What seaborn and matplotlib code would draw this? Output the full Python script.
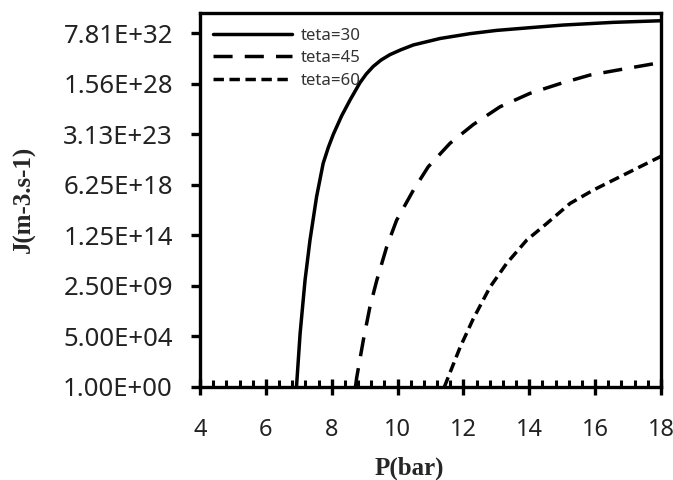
import numpy as np
import pandas as pd
import matplotlib
matplotlib.use("Agg")
import matplotlib.pyplot as plt
import matplotlib.ticker as mticker
import seaborn as sns

# Data: P in bar, exponent of J (J = 10**exponent, m^-3.s^-1)
p_30 = [6.93, 7.04, 7.19, 7.34, 7.54, 7.74, 7.90, 8.05, 8.30, 8.56, 8.86, 9.05, 9.26, 9.50, 9.77, 10.10, 10.48, 11.29, 12.2, 13.0, 14.0, 15.03, 16.55, 18.0]
logj_30 = [0, 4.97, 9.93, 13.65, 17.68, 20.79, 22.3, 23.5, 25.2, 26.7, 28.3, 29.1, 29.8, 30.4, 30.9, 31.35, 31.8, 32.4, 32.85, 33.15, 33.4, 33.65, 33.9, 34.05]

p_45 = [8.72, 8.76, 8.96, 9.16, 9.37, 9.67, 9.97, 10.48, 10.93, 11.59, 12.3, 13.11, 14.02, 14.93, 15.84, 16.75, 17.87, 18.0]
logj_45 = [0, 0.9, 4.35, 7.44, 9.93, 13.03, 15.5, 18.3, 20.47, 22.65, 24.4, 26.05, 27.3, 28.2, 29.0, 29.5, 30.1, 30.2]

p_60 = [11.42, 11.54, 11.9, 12.3, 12.81, 13.31, 13.92, 14.53, 15.24, 15.94, 16.75, 17.36, 17.97, 18.0]
logj_60 = [0, 0.93, 3.7, 6.35, 9.3, 11.48, 13.65, 15.2, 17.07, 18.3, 19.54, 20.47, 21.4, 21.45]

labels = ["teta=30", "teta=45", "teta=60"]
y_ticks = [1.0, 5.0e4, 2.5e9, 1.25e14, 6.25e18, 3.125e23, 1.5625e28, 7.8125e32]
x_ticks = [4, 6, 8, 10, 12, 14, 16, 18]

df = pd.concat([
    pd.DataFrame({"P": p_30, "J": 10.0 ** np.array(logj_30), "series": labels[0]}),
    pd.DataFrame({"P": p_45, "J": 10.0 ** np.array(logj_45), "series": labels[1]}),
    pd.DataFrame({"P": p_60, "J": 10.0 ** np.array(logj_60), "series": labels[2]}),
], ignore_index=True)

sns.set_style("white")
plt.rcParams["font.family"] = ["Noto Sans", "DejaVu Sans"]

fig = plt.figure(figsize=(6.73, 4.8), dpi=100)
ax = fig.add_axes([200 / 673, 93 / 480, 461 / 673, 374 / 480])

sns.lineplot(data=df, x="P", y="J", hue="series", style="series",
             palette=["black"] * 3,
             dashes={labels[0]: "", labels[1]: (5.5, 3.5), labels[2]: (3, 1.6)},
             sort=False, estimator=None, linewidth=2.5, ax=ax)

ax.set_yscale("log")
ax.set_ylim(1.0, 10 ** 34.77)
ax.set_xlim(4, 18)
ax.set_yticks(y_ticks)
ax.yaxis.set_major_formatter(mticker.FuncFormatter(lambda v, pos: "%.2E" % v))
ax.yaxis.set_minor_locator(mticker.NullLocator())
ax.set_xticks(x_ticks)
ax.xaxis.set_minor_locator(mticker.MultipleLocator(0.4))

for s in ax.spines.values():
    s.set_linewidth(2.4)
    s.set_color("black")

ax.tick_params(bottom=True, left=True, top=False, right=False, which="both")
ax.tick_params(axis="y", which="major", direction="out", length=6.5, width=2.4,
               labelsize=18.5, colors="black", labelcolor="#222222", pad=13)
ax.tick_params(axis="x", which="major", direction="inout", length=12, width=2.4,
               labelsize=17, colors="black", labelcolor="#222222", pad=16)
ax.tick_params(axis="x", which="minor", direction="in", length=5, width=2.2, colors="black")

ax.set_xlabel("P(bar)", fontfamily="Liberation Serif", fontweight="bold", fontsize=18)
ax.set_ylabel("J(m-3.s-1)", fontfamily="Liberation Serif", fontweight="bold", fontsize=18)
ax.xaxis.set_label_coords(0.453, -0.217)
ax.xaxis.label.set_va("center")
ax.yaxis.set_label_coords(-0.38, 0.503)
ax.yaxis.label.set_va("center")

leg = ax.legend(loc="upper left", bbox_to_anchor=(0.013, 0.979), frameon=False,
                fontsize=12.1, handlelength=4.7, handletextpad=0.53,
                labelspacing=0.4, borderaxespad=0.0)
for t in leg.get_texts():
    t.set_color("#333333")

fig.savefig("out.png", dpi=100)
